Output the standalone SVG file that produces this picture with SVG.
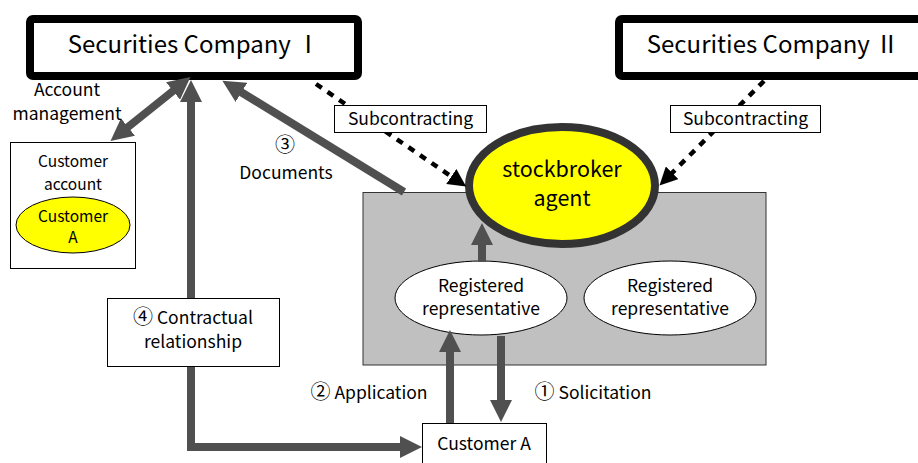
<svg xmlns="http://www.w3.org/2000/svg" width="918" height="463" viewBox="0 0 918 463">
  <style>
    text { font-family: "Noto Sans CJK JP", "Liberation Sans", sans-serif; fill: #000; text-anchor: middle; }
    .company { fill: #fff; stroke: #000; stroke-width: 8; }
    .box { fill: #fff; stroke: #000; stroke-width: 1; }
    .flow { fill: none; stroke: #505050; stroke-width: 8; }
    .dash { fill: none; stroke: #000; stroke-width: 4.5; stroke-dasharray: 7 7; }
    .t24 { font-size: 24px; }
    .t21 { font-size: 21.5px; }
    .t17 { font-size: 17.5px; }
    .t15 { font-size: 15.5px; }
    .num { font-size: 20px; }
  </style>
  <defs>
    <marker id="head" viewBox="0 0 2.8 2.8" markerWidth="2.8" markerHeight="2.8" refX="0.8" refY="1.4" orient="auto-start-reverse">
      <path d="M0,0 L2.8,1.4 L0,2.8 z" fill="#505050"/>
    </marker>
    <marker id="dhead" viewBox="0 0 4 4" markerWidth="4" markerHeight="4" refX="1" refY="2" orient="auto">
      <path d="M0,0 L4,2 L0,4 z" fill="#000"/>
    </marker>
  </defs>

  <!-- office of the agent -->
  <g id="agent-office">
    <rect x="363" y="192.5" width="403" height="172.5" fill="#c0c0c0" stroke="#333" stroke-width="1"/>
  </g>

  <g id="stockbroker-agent">
    <ellipse cx="562" cy="185.5" rx="93" ry="58.5" fill="#ffff00" stroke="#333" stroke-width="8"/>
    <text class="t21" x="562" y="177">stockbroker</text>
    <text class="t21" x="562" y="206">agent</text>
  </g>

  <g id="rep-1">
    <ellipse cx="481" cy="298" rx="86" ry="37" fill="#fff" stroke="#000" stroke-width="1"/>
    <text class="t17" x="481" y="292">Registered</text>
    <text class="t17" x="481" y="315">representative</text>
  </g>

  <g id="rep-2">
    <ellipse cx="670" cy="298" rx="86" ry="37" fill="#fff" stroke="#000" stroke-width="1"/>
    <text class="t17" x="670" y="292">Registered</text>
    <text class="t17" x="670" y="315">representative</text>
  </g>

  <g id="customer-account">
    <rect x="10.5" y="142.5" width="125" height="126" class="box"/>
    <text class="t15" x="73" y="167">Customer</text>
    <text class="t15" x="73" y="190">account</text>
    <ellipse cx="73" cy="225" rx="57" ry="28" fill="#ffff00" stroke="#000" stroke-width="1"/>
    <text class="t15" x="73" y="222">Customer</text>
    <text class="t15" x="73" y="243">A</text>
  </g>

  <g id="securities-company-1">
    <rect x="30" y="19" width="328" height="57" rx="3" class="company"/>
    <text class="t24" x="194" y="53">Securities Company Ⅰ</text>
  </g>

  <g id="securities-company-2">
    <rect x="619" y="19" width="310" height="57" rx="3" class="company"/>
    <text class="t24" x="773" y="53">Securities Company Ⅱ</text>
  </g>

  <!-- connectors -->
  <g id="connectors">
    <line class="dash" x1="316" y1="84" x2="455" y2="179" marker-end="url(#dhead)"/>
    <line class="dash" x1="764" y1="81" x2="669" y2="176" marker-end="url(#dhead)"/>
    <line class="flow" x1="178" y1="87" x2="123" y2="131" marker-start="url(#head)" marker-end="url(#head)"/>
    <path class="flow" d="M191,96 L191,447 L406,447" marker-start="url(#head)" marker-end="url(#head)"/>
    <line class="flow" x1="404" y1="192" x2="236" y2="89" marker-end="url(#head)"/>
    <line class="flow" x1="482" y1="262" x2="482" y2="239" marker-end="url(#head)"/>
    <line class="flow" x1="450" y1="423" x2="450" y2="346" marker-end="url(#head)"/>
    <line class="flow" x1="501" y1="336" x2="501" y2="406" marker-end="url(#head)"/>
  </g>

  <g id="subcontracting-1">
    <rect x="334.5" y="105.5" width="152" height="27" class="box"/>
    <text class="t17" x="410.5" y="125">Subcontracting</text>
  </g>

  <g id="subcontracting-2">
    <rect x="670.5" y="105.5" width="150" height="27" class="box"/>
    <text class="t17" x="745.5" y="125">Subcontracting</text>
  </g>

  <g id="contractual-relationship">
    <rect x="107.5" y="298.5" width="172" height="68" class="box"/>
    <text class="t17" x="193" y="324"><tspan class="num">④</tspan> Contractual</text>
    <text class="t17" x="193" y="348">relationship</text>
  </g>

  <g id="customer-a">
    <rect x="422.5" y="423.5" width="124" height="50" class="box"/>
    <text class="t17" x="484" y="450">Customer A</text>
  </g>

  <!-- flow labels -->
  <g id="labels">
    <text class="num" x="285" y="152">③</text>
    <text class="t17" x="286" y="179">Documents</text>
    <text class="t17" x="67" y="96">Account</text>
    <text class="t17" x="67" y="120">management</text>
    <text class="t17" x="369" y="399"><tspan class="num">②</tspan> Application</text>
    <text class="t17" x="593" y="399"><tspan class="num">①</tspan> Solicitation</text>
  </g>
</svg>
